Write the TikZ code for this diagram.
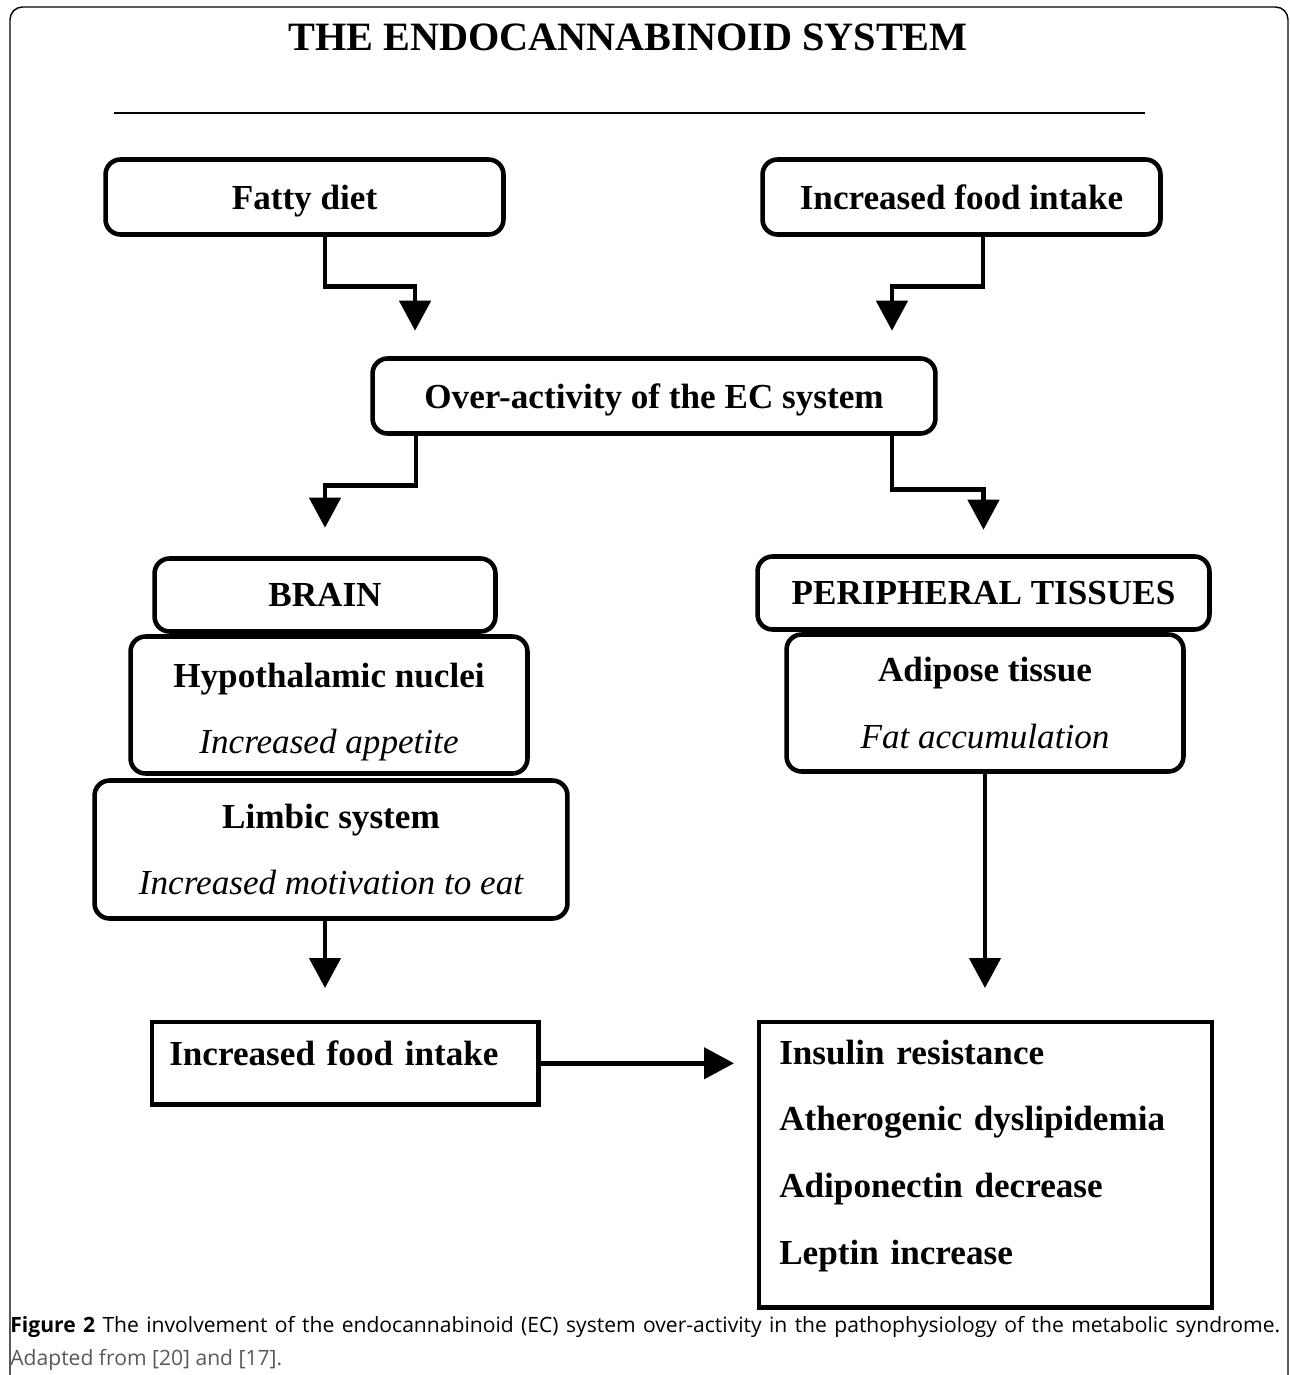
\documentclass[tikz,border=0pt]{standalone}
\usepackage{fontspec}
\setmainfont{Liberation Serif}
\newfontfamily\capfont{Open Sans}
\usetikzlibrary{arrows.meta,positioning}
\begin{document}
\begin{tikzpicture}[x=0.02cm,y=-0.02cm,
  stage/.style={draw, fill=white, line width=2.6pt, rounded corners=0.3cm, inner sep=0pt,
    font=\fontsize{20}{38}\selectfont\bfseries, align=center},
  outcome/.style={draw, fill=white, line width=2.6pt, inner sep=0pt,
    font=\fontsize{20}{38}\selectfont\bfseries},
  flow/.style={line width=2.6pt, -{Triangle[width=0.62cm,length=0.6cm]}},
  capline/.style={inner sep=0pt, font=\capfont\fontsize{12}{14}\selectfont}]
  \useasboundingbox (0,0) rectangle (1290,1375);
  \draw[line width=0.8pt, rounded corners=0.25cm] (10,1400) -- (10,7) -- (1288,7) -- (1288,1400);
  \node[font=\fontsize{22.9}{27}\selectfont\bfseries] (title) at (628,37) {THE ENDOCANNABINOID SYSTEM};
  \draw[line width=1.6pt] (114,113) -- (1145,113);
  \node[stage, minimum width=7.96cm, minimum height=1.5cm, text depth=0pt] (fatty) at (304.5,197) {Fatty diet};
  \node[stage, minimum width=7.96cm, minimum height=1.5cm] (intake) at (961.5,197) {Increased food intake};
  \node[stage, minimum width=11.26cm, minimum height=1.5cm, text depth=0pt] (over) at (654,396) {Over-activity of the EC system};
  \node[stage, minimum width=6.82cm, minimum height=1.46cm] (brain) at (325,595) {BRAIN};
  \node[stage, minimum width=7.94cm, minimum height=2.74cm] (hypo) at (329,705)
    {\rule{0pt}{0.77cm}Hypothalamic nuclei\\\normalfont\itshape Increased appetite};
  \node[stage, minimum width=9.46cm, minimum height=2.76cm] (limbic) at (331,849.5)
    {Limbic system\\\normalfont\itshape Increased motivation to eat};
  \node[stage, minimum width=9.04cm, minimum height=1.46cm] (periph) at (983.5,593) {PERIPHERAL TISSUES};
  \node[stage, minimum width=7.94cm, minimum height=2.74cm] (adipose) at (985,703)
    {Adipose tissue\\\normalfont\itshape Fat accumulation};
  \node[outcome, anchor=north west, minimum width=7.74cm, minimum height=1.66cm,
    text width=7.04cm, inner xsep=0.35cm, align=left] (eating) at (149.5,1019.5)
    {Increased food intake\rule[-0.4cm]{0pt}{0.4cm}};
  \node[outcome, anchor=north west, minimum width=9.07cm, minimum height=5.71cm,
    text width=8.25cm, inner xsep=0.41cm, align=left] (syndrome) at (756.5,1019.5)
    {Insulin resistance\\Atherogenic dyslipidemia\\Adiponectin decrease\\Leptin increase\rule[-0.5cm]{0pt}{0.5cm}};
  \draw[flow, shorten >=0.51cm] ([xshift=0.41cm]fatty.south) -- ++(0,50) -| ([xshift=-4.78cm]over.north);
  \draw[flow, shorten >=0.51cm] ([xshift=0.43cm]intake.south) -- ++(0,50) -| ([xshift=4.76cm]over.north);
  \draw[flow, shorten >=0.57cm] ([xshift=-4.76cm]over.south) -- ++(0,50) -| (brain.north);
  \draw[flow, shorten >=0.49cm] ([xshift=4.76cm]over.south) -- ++(0,54) -| (periph.north);
  \draw[flow, shorten >=0.63cm] ([xshift=-0.12cm]limbic.south) -- ([xshift=-0.12cm]limbic.south |- eating.north);
  \draw[flow, shorten >=0.63cm] (adipose.south) -- (adipose.south |- syndrome.north);
  \draw[flow, shorten >=0.45cm] (eating.east) -- (eating.east -| syndrome.west);
  \node[capline, anchor=base west] (caption) at (10,1332)
    {\makebox[25.4cm][s]{\textbf{Figure 2} The involvement of the endocannabinoid (EC) system over-activity in the pathophysiology of the metabolic syndrome.}};
  \node[capline, anchor=base west, text=black!65] (source) at (10,1365) {Adapted from [20] and [17].};
\end{tikzpicture}
\end{document}
